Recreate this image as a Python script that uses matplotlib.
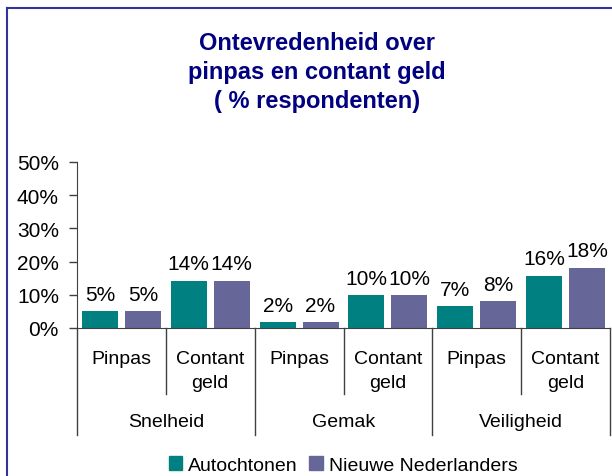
import matplotlib
matplotlib.use("Agg")
import matplotlib.pyplot as plt
from matplotlib.lines import Line2D
from matplotlib.patches import Patch

plt.rcParams['font.family'] = ['Liberation Sans', 'DejaVu Sans']

groups = ["Snelheid", "Gemak", "Veiligheid"]
subcats = ["Pinpas", "Contant\ngeld"]
series_names = ["Autochtonen", "Nieuwe Nederlanders"]
autochtonen = [5.1, 14.2, 1.8, 9.9, 6.6, 15.7]
nieuwe = [5.1, 14.2, 1.8, 9.9, 8.1, 18.1]
labels_auto = ["5%", "14%", "2%", "10%", "7%", "16%"]
labels_nieuwe = ["5%", "14%", "2%", "10%", "8%", "18%"]
yticks = [0, 10, 20, 30, 40, 50]
ytick_labels = ["0%", "10%", "20%", "30%", "40%", "50%"]
title_lines = ["Ontevredenheid over", "pinpas en contant geld", "( % respondenten)"]

teal = "#008080"
purple = "#666699"
W, H = 612, 477
fig = plt.figure(figsize=(W / 100, H / 100), dpi=100)

# frame
fig.add_artist(Line2D([7 / W, 7 / W], [0, 1 - 9 / H], color="#333399", lw=1.5))
fig.add_artist(Line2D([7 / W, 1], [1 - 9 / H, 1 - 9 / H], color="#333399", lw=1.5))

x0, x1 = 77, 610
y0, y50 = 329, 163
ax = fig.add_axes([x0 / W, 1 - y0 / H, (x1 - x0) / W, (y0 - y50) / H])
ax.set_xlim(0, 6)
ax.set_ylim(0, 50)
ppu = (y0 - y50) / 50.0  # pixels per unit

bw = 36 / 89
off1 = 23 / 89
off2 = 66 / 89
xs = list(range(6))
ax.bar([x + off1 for x in xs], autochtonen, width=bw, color=teal, label=series_names[0])
ax.bar([x + off2 for x in xs], nieuwe, width=bw, color=purple, label=series_names[1])

for x, v, l in zip(xs, autochtonen, labels_auto):
    ax.text(x + off1, v + 17 / ppu, l, ha="center", va="center", fontsize=15)
for x, v, l in zip(xs, nieuwe, labels_nieuwe):
    ax.text(x + off2, v + 17 / ppu, l, ha="center", va="center", fontsize=15)

ax.set_yticks(yticks)
ax.set_yticklabels(ytick_labels, fontsize=15)
ax.tick_params(axis="y", length=6, width=1, color="#404040", pad=7)
ax.set_xticks([])
for s in ["top", "right"]:
    ax.spines[s].set_visible(False)
ax.spines["left"].set_color("#404040")
ax.spines["bottom"].set_color("#404040")

ph = y0 - y50
def ay(py):
    return (y0 - py) / ph

tr = ax.get_xaxis_transform()
for i in range(7):
    bottom = 436 if i % 2 == 0 else 395
    ax.add_line(Line2D([i, i], [0, ay(bottom)], transform=tr, color="#404040", lw=1, clip_on=False))

for i in range(6):
    for k, line in enumerate(subcats[i % 2].split("\n")):
        ax.text(i + 0.5, ay(359 + 24 * k), line, transform=tr, ha="center", va="center",
                fontsize=14)
for g, name in enumerate(groups):
    ax.text(2 * g + 1, ay(423), name, transform=tr, ha="center", va="center", fontsize=14)

for k, (line, py) in enumerate(zip(title_lines, [43, 72, 102])):
    fig.text(317 / W, 1 - py / H, line, ha="center", va="center", fontsize=17,
             fontweight="bold", color="#000080")

handles = [Patch(color=teal), Patch(color=purple)]
fig.legend(handles, series_names, loc="center", bbox_to_anchor=(343 / W, 1 - 466 / H),
           ncol=2, frameon=False, fontsize=14, handlelength=0.7, handleheight=0.7,
           handletextpad=0.3, columnspacing=0.6)

fig.savefig("out.png", dpi=100)
